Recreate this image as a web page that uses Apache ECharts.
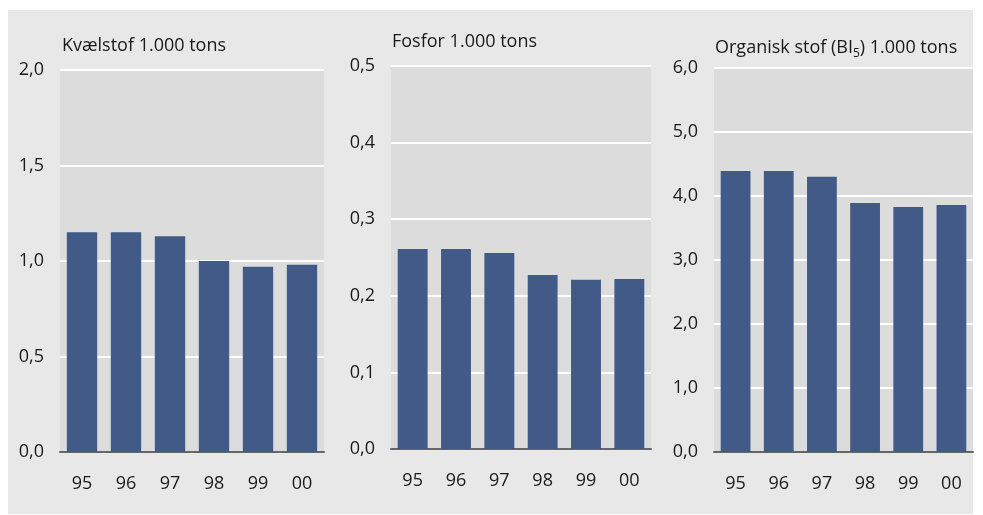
<!DOCTYPE html>
<html>
<head>
<meta charset="utf-8">
<script src="https://cdn.jsdelivr.net/npm/echarts@6/dist/echarts.min.js"></script>
<style>
    html, body { margin: 0; padding: 0; background: #fff; }
    #bg { position: absolute; left: 8px; top: 10px; width: 965px; height: 504px; background: #e8e8e8; }
    #main { position: absolute; left: 0; top: 0; width: 983px; height: 515px; }
</style>
</head>
<body>
<div id="bg"></div>
<div id="main"></div>
<script>
// years on x axis
var years = ['95', '96', '97', '98', '99', '00'];

// values in 1.000 tons
var kvaelstof = [1.15, 1.15, 1.13, 1.00, 0.97, 0.98];
var fosfor = [0.261, 0.261, 0.256, 0.227, 0.221, 0.222];
var organisk = [4.39, 4.39, 4.30, 3.89, 3.83, 3.86];

// y axis ranges
var yMax = [2.0, 0.5, 6.0];
var yStep = [0.5, 0.1, 1.0];

var fontName = 'Open Sans';
var barColor = '#425a88';
var textColor = '#1a1a1a';

var chart = echarts.init(document.getElementById('main'));

// grid boxes for the three panels
var grids = [
    { left: 60, top: 70, width: 264, height: 382 },
    { left: 391, top: 66, width: 260, height: 383 },
    { left: 714, top: 68, width: 259, height: 384 }
];

function commaFmt(v) {
    return v.toFixed(1).replace('.', ',');
}

var xAxes = [], yAxes = [];
for (var i = 0; i < 3; i++) {
    xAxes.push({
        type: 'category',
        gridIndex: i,
        data: years,
        axisTick: { show: false },
        axisLine: { lineStyle: { color: '#666', width: 2 } },
        axisLabel: { color: textColor, fontSize: 18, fontFamily: fontName, margin: 23 }
    });
    yAxes.push({
        type: 'value',
        gridIndex: i,
        min: 0,
        max: yMax[i],
        interval: yStep[i],
        axisLine: { show: false },
        axisTick: { show: false },
        splitLine: { lineStyle: { color: '#ffffff', width: 2 } },
        axisLabel: { color: textColor, fontSize: 18, fontFamily: fontName, margin: 16, formatter: commaFmt }
    });
}

var seriesData = [kvaelstof, fosfor, organisk];
var series = [];
for (var j = 0; j < 3; j++) {
    series.push({
        type: 'bar',
        xAxisIndex: j,
        yAxisIndex: j,
        data: seriesData[j],
        barCategoryGap: '31%',
        itemStyle: { color: barColor },
        silent: true
    });
}

var titleStyle = { color: textColor, fontSize: 18, fontWeight: 'normal', fontFamily: fontName };

var option = {
    animation: false,
    title: [
        { text: 'Kvælstof 1.000 tons', left: 57, top: 32, textStyle: titleStyle },
        { text: 'Fosfor 1.000 tons', left: 387, top: 28, textStyle: titleStyle },
        {
            text: '{a|Organisk stof (BI}{s|5}{a|) 1.000 tons}',
            left: 710, top: 28,
            textStyle: {
                fontWeight: 'normal',
                rich: {
                    a: { color: textColor, fontSize: 18, fontWeight: 'normal', fontFamily: fontName, verticalAlign: 'bottom', lineHeight: 24 },
                    s: { color: textColor, fontSize: 12, fontWeight: 'normal', fontFamily: fontName, verticalAlign: 'bottom', lineHeight: 24, padding: [0, 0, -3, 0] }
                }
            }
        }
    ],
    grid: grids.map(function (g) {
        return {
            left: g.left, top: g.top, width: g.width, height: g.height,
            show: true, backgroundColor: '#dcdcdc', borderWidth: 0, containLabel: false
        };
    }),
    xAxis: xAxes,
    yAxis: yAxes,
    series: series
};

chart.setOption(option);
</script>
</body>
</html>
